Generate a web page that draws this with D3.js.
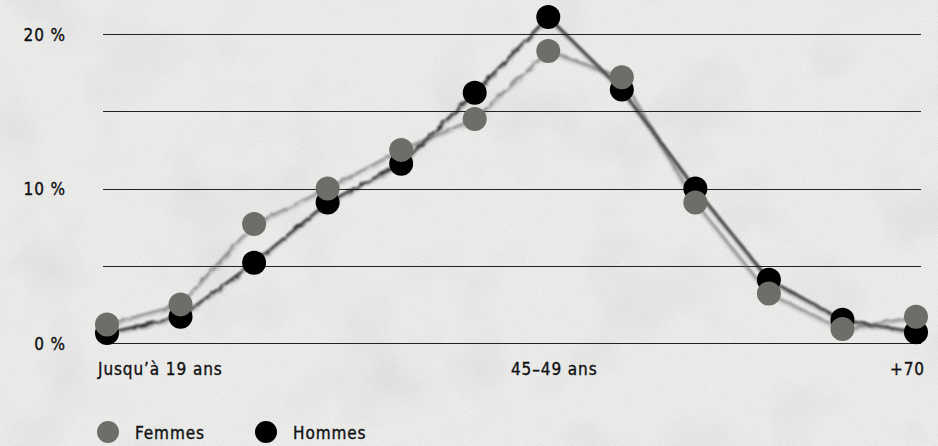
<!DOCTYPE html>
<html><head><meta charset="utf-8">
<script src="https://cdn.jsdelivr.net/npm/d3@7"></script>
<style>
html,body{margin:0;padding:0;background:#ebebea;}
svg{display:block;}
text{font-family:"DejaVu Sans Condensed","DejaVu Sans",sans-serif;fill:#111;stroke:#111;stroke-width:0.35px;letter-spacing:0.9px;}
</style></head>
<body><svg id="c" width="938" height="446"></svg>
<script>
const categories = ["Jusqu’à 19 ans","20–24 ans","25–29 ans","30–34 ans","35–39 ans","40–44 ans","45–49 ans","50–54 ans","55–59 ans","60–64 ans","65–69 ans","+70"];
const femmes = [1.2, 2.5, 7.7, 10.0, 12.5, 14.5, 18.9, 17.2, 9.1, 3.2, 0.9, 1.7];
const hommes = [0.65, 1.7, 5.2, 9.1, 11.6, 16.2, 21.1, 16.4, 10.0, 4.1, 1.5, 0.7];
const yTicks = [0, 5, 10, 15, 20];
const yLabels = {0:"0 %", 10:"10 %", 20:"20 %"};
const xLabelIdx = [0, 6, 11];
const seriesNames = ["Femmes","Hommes"];
const colors = {Femmes:"#6e6d69", Hommes:"#000000"};

const FS = 17;
const svg = d3.select("#c");
const defs = svg.append("defs");
// paper texture
const tex = defs.append("filter").attr("id","paper").attr("x",0).attr("y",0).attr("width","100%").attr("height","100%");
tex.append("feTurbulence").attr("type","fractalNoise").attr("baseFrequency",0.9).attr("numOctaves",2).attr("seed",3).attr("result","n");
tex.append("feColorMatrix").attr("type","matrix").attr("values","0 0 0 0 0.5  0 0 0 0 0.5  0 0 0 0 0.5  0 0 0 0.9 -0.35");
const tex2 = defs.append("filter").attr("id","blotch").attr("x",0).attr("y",0).attr("width","100%").attr("height","100%");
tex2.append("feTurbulence").attr("type","fractalNoise").attr("baseFrequency",0.012).attr("numOctaves",3).attr("seed",7);
tex2.append("feColorMatrix").attr("type","matrix").attr("values","0 0 0 0 0.45  0 0 0 0 0.45  0 0 0 0 0.45  0 0 0 0.45 -0.22");
// sketchy line
const sk = defs.append("filter").attr("id","sketch").attr("x","-5%").attr("y","-5%").attr("width","110%").attr("height","110%");
sk.append("feTurbulence").attr("type","fractalNoise").attr("baseFrequency",0.12).attr("numOctaves",2).attr("seed",2).attr("result","t");
sk.append("feDisplacementMap").attr("in","SourceGraphic").attr("in2","t").attr("scale",3.5).attr("result","d");
sk.append("feGaussianBlur").attr("in","d").attr("stdDeviation",1.0);

svg.append("rect").attr("width",938).attr("height",446).attr("fill","#ececeb");
svg.append("rect").attr("width",938).attr("height",446).attr("filter","url(#blotch)");
svg.append("rect").attr("width",938).attr("height",446).attr("filter","url(#paper)").attr("opacity",0.5);

const x = d3.scalePoint().domain(categories).range([107, 916]);
const y = d3.scaleLinear().domain([0, 20]).range([343, 34]);

// grid
const gx0 = 103, gx1 = 921;
svg.append("g").selectAll("line").data(yTicks).join("line")
  .attr("x1",gx0).attr("x2",gx1)
  .attr("y1",d=>Math.round(y(d))+0.5).attr("y2",d=>Math.round(y(d))+0.5)
  .attr("stroke","#222").attr("stroke-width",1.2);

// y labels
svg.append("g").selectAll("text").data(yTicks.filter(d=>yLabels[d])).join("text")
  .attr("x",66).attr("y",d=>y(d)+6.5).attr("text-anchor","end")
  .attr("font-size",FS).text(d=>yLabels[d]);

// x labels
svg.append("g").selectAll("text").data(xLabelIdx).join("text")
  .attr("x",(d,i)=> i===0 ? 98 : (i===xLabelIdx.length-1 ? 925 : x(categories[d])+6))
  .attr("y",375)
  .attr("text-anchor",(d,i)=> i===0 ? "start" : (i===xLabelIdx.length-1 ? "end":"middle"))
  .attr("font-size",FS).text(d=>categories[d]);

const line = d3.line().x((d,i)=>x(categories[i])).y(d=>y(d));
const series = [{name:"Hommes", vals:hommes},{name:"Femmes", vals:femmes}];

// lines (sketchy, multiple passes)
series.forEach(s=>{
  const g = svg.append("g").attr("filter","url(#sketch)");
  const col = s.name==="Hommes" ? "#111" : "#555";
  g.append("path").attr("d",line(s.vals)).attr("fill","none").attr("stroke",col)
    .attr("stroke-width",2.4).attr("opacity",s.name==="Hommes"?0.85:0.5);
  g.append("path").attr("d",line(s.vals)).attr("fill","none").attr("stroke",col)
    .attr("stroke-width",5).attr("opacity",0.18).attr("transform","translate(0,1.5)");
});

// circles: Hommes first, Femmes on top
series.forEach(s=>{
  svg.append("g").selectAll("circle").data(s.vals).join("circle")
    .attr("cx",(d,i)=>x(categories[i])).attr("cy",d=>y(d)).attr("r",12)
    .attr("fill",colors[s.name]);
});

// legend
const lg = svg.append("g");
const lx = [108, 266];
seriesNames.forEach((n,i)=>{
  lg.append("circle").attr("cx",lx[i]).attr("cy",432).attr("r",11).attr("fill",colors[n]);
  lg.append("text").attr("x",lx[i]+27).attr("y",438.5).attr("font-size",FS).text(n);
});
</script></body></html>
